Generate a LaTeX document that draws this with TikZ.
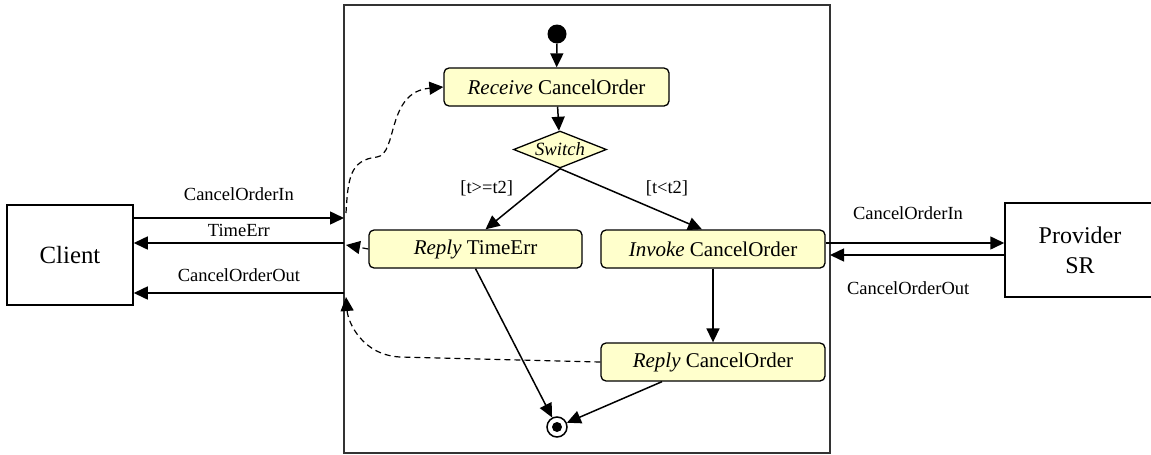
\documentclass[tikz,border=0pt]{standalone}
\usepackage{fontspec}
\setmainfont{Liberation Serif}
\usetikzlibrary{arrows.meta,shapes.geometric}
\definecolor{actfill}{RGB}{255,255,204}
\tikzset{
  arr/.style={line width=1.5pt,-{Triangle[length=14pt,width=13pt]}},
  darr/.style={line width=1.2pt,dash pattern=on 6pt off 4pt,-{Triangle[length=14pt,width=13pt]}},
  act/.style={draw,line width=1.3pt,fill=actfill,rounded corners=5pt,
    minimum height=38pt,inner sep=0pt,font=\fontsize{21}{24}\selectfont},
  choice/.style={draw,line width=1.3pt,fill=actfill,shape=diamond,aspect=2.5,
    inner sep=0pt,minimum width=93pt,minimum height=37pt,
    font=\fontsize{18.7}{20}\selectfont\itshape},
  party/.style={draw,line width=1.5pt,fill=white,inner sep=0pt,align=center},
  lbl/.style={font=\fontsize{18.5}{20}\selectfont,inner sep=0pt},
}
\begin{document}
\begin{tikzpicture}[x=1pt,y=-1pt]
\useasboundingbox (0,0) rectangle (1151,455);

% orchestration frame
\node[draw=black!80,line width=1.8pt,minimum width=486pt,minimum height=448pt,inner sep=0pt] (orch) at (587,229) {};

% partners
\node[party,minimum width=126pt,minimum height=100pt,font=\fontsize{24.8}{28}\selectfont] (client) at (70,255) {Client};
\node[party,minimum width=150pt,minimum height=94pt,font=\fontsize{24}{30}\selectfont] (prov) at (1080,250) {Provider\\SR};

% activity flow
\node[circle,fill=black,minimum size=19pt,inner sep=0pt] (start) at (557,34) {};
\node[act,minimum width=225pt] (recv) at (556.5,87) {\textit{Receive} CancelOrder};
\node[choice] (sw) at (560,149.5) {Switch};
\node[act,minimum width=213pt] (rte) at (475.5,249) {\textit{Reply} TimeErr};
\node[act,minimum width=224pt] (inv) at (713,249) {\textit{Invoke} CancelOrder};
\node[act,minimum width=224pt] (rco) at (713,362) {\textit{Reply} CancelOrder};
\node[circle,draw,line width=1.5pt,fill=white,minimum size=20pt,inner sep=0pt] (end) at (557,427) {};
\fill (end.center) circle (5pt);

\draw[arr] (start) -- (recv);
\draw[arr] (recv) -- (sw);
\draw[arr] (sw.south) -- ([xshift=10pt]rte.north) node[midway,lbl,xshift=-36pt,yshift=11pt] {[t>=t2]};
\draw[arr] (sw.south) -- ([xshift=-11pt]inv.north) node[midway,lbl,xshift=36pt,yshift=11pt] {[t<t2]};
\draw[arr] (inv) -- (rco);
\draw[arr] (rte.south) -- (end);
\draw[arr] ([xshift=-51pt]rco.south) -- (end);

% points on the frame border
\coordinate (fIn) at (344,218);
\coordinate (fTE) at (344,243);
\coordinate (fOut) at (344,293);
\coordinate (fTEd) at (346,245);
\coordinate (fRecv) at (346,213);
\coordinate (fRep) at (346,297);
\coordinate (rIn) at ([yshift=6pt]inv.east);
\coordinate (rOut) at (830,255);

% messages with the client
\draw[arr] (client.east |- fIn) -- (fIn) node[midway,lbl,yshift=24pt] {CancelOrderIn};
\draw[arr] (fTE) -- (client.east |- fTE) node[midway,lbl,yshift=13pt] {TimeErr};
\draw[arr] (fOut) -- (client.east |- fOut) node[midway,lbl,yshift=18pt] {CancelOrderOut};

% messages with the provider
\draw[arr] (rIn) -- (prov.west |- rIn) node[midway,lbl,xshift=-7pt,yshift=30pt] {CancelOrderIn};
\draw[arr] (prov.west |- rOut) -- (rOut) node[midway,lbl,xshift=-9pt,yshift=-33pt] {CancelOrderOut};

% data links between frame border and activities
\draw[darr] (fRecv) .. controls (348,178) and (350,160) .. (377,157)
  .. controls (398,154) and (386,92) .. (recv.west);
\draw[darr] (rte.west) -- (fTEd);
\draw[darr] (rco.west) -- (400,357) .. controls (362,355) and (348,322) .. (fRep);
\end{tikzpicture}
\end{document}
